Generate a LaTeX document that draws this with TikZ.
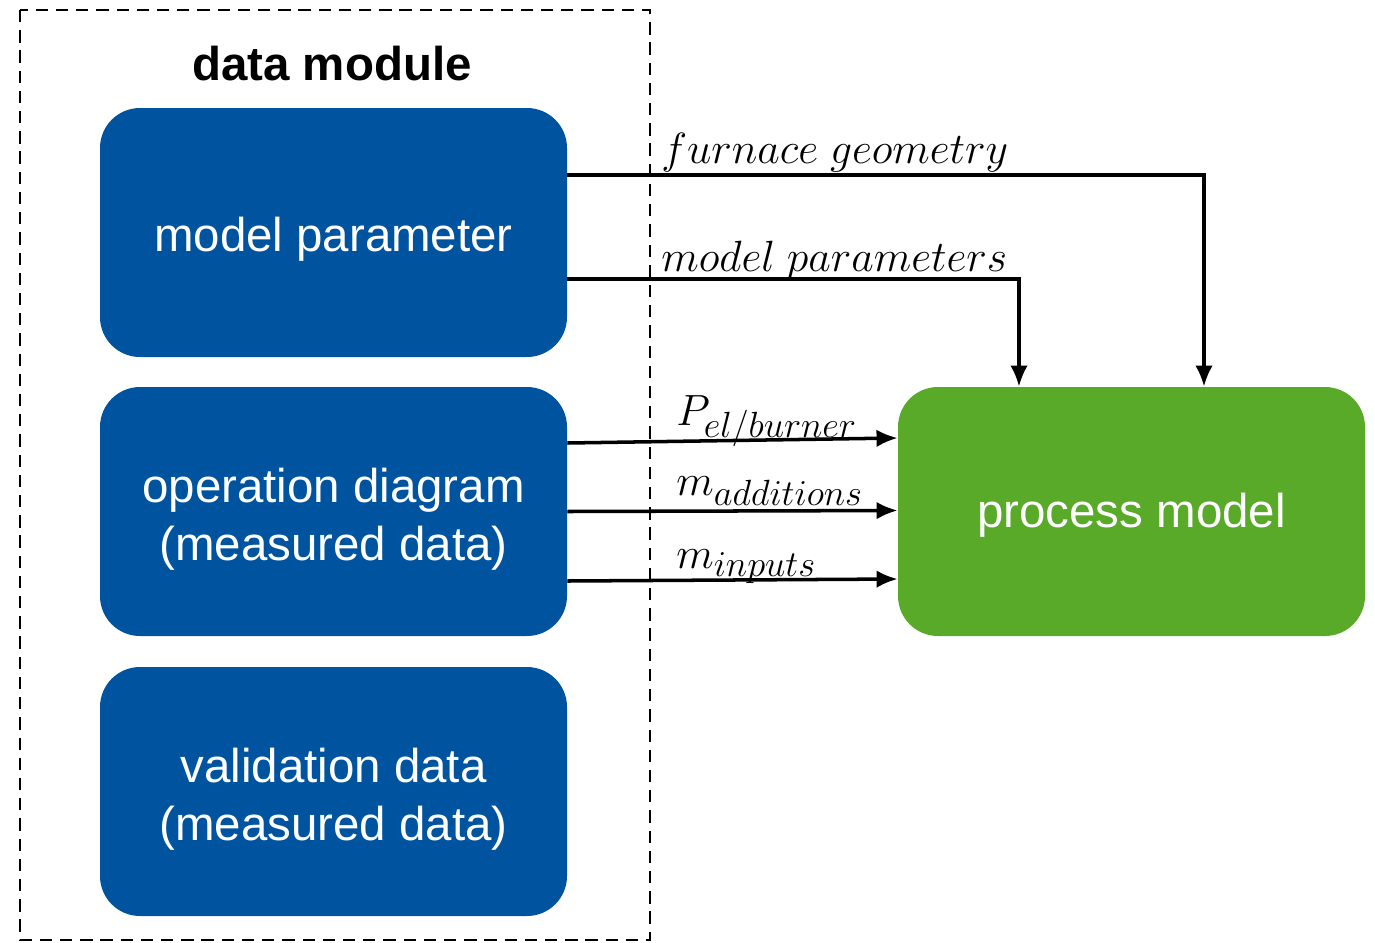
\documentclass[tikz,border=0pt]{standalone}
\usepackage{fontspec}
\setmainfont{Liberation Sans}
\usetikzlibrary{arrows.meta}
\definecolor{modblue}{RGB}{0,84,159}
\definecolor{modgreen}{RGB}{89,170,40}
\DeclareMathSizes{24.5}{24.5}{21}{16}

\tikzstyle{datablock} = [rectangle,rounded corners=0.8cm,fill=modblue,minimum width=9.34cm,minimum height=4.98cm]
\tikzstyle{modelblock} = [datablock,fill=modgreen]
\tikzstyle{blocktext} = [text=white,align=center,font=\fontsize{27}{33}\selectfont]
\tikzstyle{flowlabel} = [anchor=base west,inner sep=0pt,font=\fontsize{24.5}{28}\selectfont]
\tikzstyle{flow} = [->,>={Latex[length=12pt,width=10pt]},line width=2pt]

\begin{document}
\begin{tikzpicture}
		\useasboundingbox (0,0) rectangle (27.5,-18.84);
		\draw[line width=1.6pt,dash pattern=on 7pt off 4.5pt] (0.4,-0.2) rectangle (13,-18.8);
		\node[font=\fontsize{27}{33}\selectfont\bfseries] (title) at (6.64,-1.28) {data module};
		\node[datablock] (mp) at (6.67,-4.65) {};
		\node[datablock] (od) at (6.67,-10.23) {};
		\node[datablock] (vd) at (6.67,-15.83) {};
		\node[modelblock] (pm) at (22.63,-10.23) {};
		\node[blocktext] (mptext) at ([yshift=-0.14cm]mp) {model parameter};
		\node[blocktext] (odtext) at ([yshift=-0.15cm]od) {operation diagram\\(measured data)};
		\node[blocktext] (vdtext) at ([yshift=-0.15cm]vd) {validation data\\(measured data)};
		\node[blocktext] (pmtext) at ([yshift=-0.08cm]pm) {process model};
		\draw[flow] ([yshift=1.15cm]mp.east) -| ([xshift=1.45cm]pm.north);
		\draw[flow] ([yshift=-0.93cm]mp.east) -| ([xshift=-2.25cm]pm.north);
		\draw[flow] ([yshift=1.37cm]od.east) -- ([yshift=1.47cm]pm.west);
		\draw[flow] (od.east) -- ([yshift=0.02cm]pm.west);
		\draw[flow] ([yshift=-1.39cm]od.east) -- ([yshift=-1.35cm]pm.west);
		
		\node[flowlabel] (fg) at (13.22,-3.26) {$furnace\ geometry$};
		\node[flowlabel] (mps) at (13.22,-5.42) {$model\ parameters$};
		\node[flowlabel] (pel) at (13.52,-8.5) {$P_{el/burner}$};
		\node[flowlabel] (madd) at (13.52,-9.9) {$m_{additions}$};
		\node[flowlabel] (minp) at (13.52,-11.36) {$m_{inputs}$};
		\end{tikzpicture}
\end{document}
